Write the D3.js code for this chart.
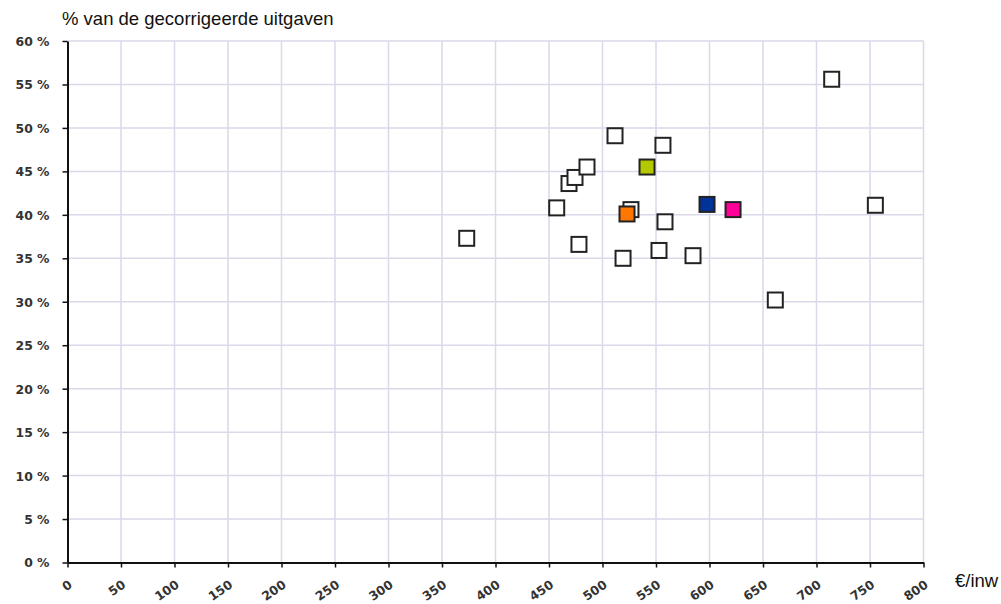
<!DOCTYPE html>
<html>
<head>
<meta charset="utf-8">
<script src="https://cdn.jsdelivr.net/npm/d3@7"></script>
<style>
  html, body { margin: 0; padding: 0; background: #fff; }
  svg { display: block; }
</style>
</head>
<body>
<svg id="chart" width="1001" height="604"></svg>
<script>
// ---- data ----
const xTicks = [0, 50, 100, 150, 200, 250, 300, 350, 400, 450, 500, 550, 600, 650, 700, 750, 800];
const yTicks = [0, 5, 10, 15, 20, 25, 30, 35, 40, 45, 50, 55, 60];

// reference group (white squares): €/inw and % of corrected expenditure
const refX = [373.1, 457.2, 468.7, 474.3, 485.5, 478.0, 511.7, 556.5, 526.6, 558.4, 519.2, 552.8, 584.6, 714.2, 755.0, 661.5];
const refY = [37.3, 40.8, 43.6, 44.3, 45.5, 36.6, 49.1, 48.0, 40.6, 39.2, 35.0, 35.9, 35.3, 55.6, 41.1, 30.2];

// highlighted squares
const hiX = [541.6, 522.9, 597.7, 622.0];
const hiY = [45.5, 40.1, 41.2, 40.6];
const hiColors = ["#b4c800", "#ff7700", "#003399", "#ff0099"];

const yTitle = "% van de gecorrigeerde uitgaven";
const xTitle = "€/inw";

// ---- layout ----
const svg = d3.select("#chart");
const plotLeft = 67.5, plotRight = 923.5, plotTop = 41, plotBottom = 562.5;

const x = d3.scaleLinear().domain([0, 800]).range([plotLeft, plotRight]);
const y = d3.scaleLinear().domain([0, 60]).range([plotBottom, plotTop]);

// gridlines
const grid = svg.append("g").attr("stroke", "#d9d9e9").attr("stroke-width", 1.5);
grid.selectAll("line.v").data(xTicks.filter(d => d > 0)).join("line")
  .attr("x1", d => x(d)).attr("x2", d => x(d))
  .attr("y1", y(60)).attr("y2", y(0));
grid.selectAll("line.h").data(yTicks.filter(d => d > 0)).join("line")
  .attr("x1", x(0)).attr("x2", x(800))
  .attr("y1", d => y(d)).attr("y2", d => y(d));

// axes
const yAxis = d3.axisLeft(y).tickValues(yTicks).tickSize(5).tickPadding(13)
  .tickFormat(d => d + " %").tickSizeOuter(0);
const gy = svg.append("g").attr("transform", `translate(${plotLeft},0)`).call(yAxis);

const xAxis = d3.axisBottom(x).tickValues(xTicks).tickSize(5)
  .tickFormat(d => d).tickSizeOuter(0);
const gx = svg.append("g").attr("transform", `translate(0,${plotBottom})`).call(xAxis);

[gy, gx].forEach(g => {
  g.select(".domain").attr("stroke", "#111").attr("stroke-width", 2);
  g.selectAll(".tick line").attr("stroke", "#111").attr("stroke-width", 1.5);
  g.selectAll(".tick text")
    .attr("fill", "#333")
    .style("font-family", "'DejaVu Sans', sans-serif")
    .style("font-weight", "bold")
    .style("font-size", "12.4px");
});
gy.selectAll(".tick text").attr("dy", "0.36em");
gx.selectAll(".tick text")
  .attr("y", null).attr("dy", null)
  .attr("text-anchor", "end")
  .attr("transform", "translate(5,24) rotate(-35)");

// axis titles
svg.append("text").attr("x", 62).attr("y", 25)
  .style("font-family", "'Liberation Sans', Arial, sans-serif")
  .style("font-size", "18.5px").attr("fill", "#111").text(yTitle);
svg.append("text").attr("x", 955).attr("y", 587)
  .style("font-family", "'Liberation Sans', Arial, sans-serif")
  .style("font-size", "18.5px").attr("fill", "#111").text(xTitle);

// points
const sz = 15;
const refPts = refX.map((v, i) => ({ x: v, y: refY[i] }));
svg.append("g").selectAll("rect").data(refPts).join("rect")
  .attr("x", d => x(d.x) - sz / 2).attr("y", d => y(d.y) - sz / 2)
  .attr("width", sz).attr("height", sz)
  .attr("fill", "#fff").attr("stroke", "#222").attr("stroke-width", 2);

const hiPts = hiX.map((v, i) => ({ x: v, y: hiY[i], c: hiColors[i] }));
svg.append("g").selectAll("rect").data(hiPts).join("rect")
  .attr("x", d => x(d.x) - sz / 2).attr("y", d => y(d.y) - sz / 2)
  .attr("width", sz).attr("height", sz)
  .attr("fill", d => d.c).attr("stroke", "#222").attr("stroke-width", 2);
</script>
</body>
</html>
